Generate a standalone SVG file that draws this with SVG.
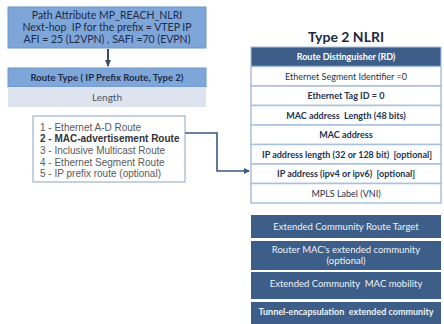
<svg xmlns="http://www.w3.org/2000/svg" width="444" height="324" viewBox="0 0 444 324">
<style>
.c{font-family:Lato,"Open Sans","DejaVu Sans",sans-serif;text-anchor:middle;white-space:pre}
.blue{fill:#7fa6d8;stroke:#6d95c9;stroke-width:1}
.t1{font-size:10.5px;fill:#1d2b48}
.row{fill:#ffffff;stroke:#a9c0de;stroke-width:1.5}
.rt{font-size:9px;fill:#24344f}
.b{font-weight:bold}
.dark{fill:#3c5e88}
.dt{font-size:9.5px;fill:#eef2f8}
.list{font-family:"Liberation Sans",Arial,sans-serif;font-size:10px;fill:#5a5a5a}
</style>
<defs>
<marker id="ah" markerWidth="6" markerHeight="6" refX="5" refY="3" orient="auto" markerUnits="userSpaceOnUse">
<path d="M0,0 L6,3 L0,6 z" fill="#3a5a80"/>
</marker>
<marker id="ad" markerWidth="7" markerHeight="6" refX="6" refY="3" orient="auto" markerUnits="userSpaceOnUse">
<path d="M0,0 L7,3 L0,6 z" fill="#3a4a6a"/>
</marker>
</defs>

<g id="path-attribute">
<rect class="blue" x="8" y="7" width="198" height="41"/>
<text class="c t1" x="107" y="19">Path Attribute MP_REACH_NLRI</text>
<text class="c t1" x="107" y="31">Next-hop  IP for the prefix = VTEP IP</text>
<text class="c t1" x="107" y="43">AFI = 25 (L2VPN) , SAFI =70 (EVPN)</text>
</g>

<g id="route-type">
<rect class="blue" x="8" y="68" width="198" height="19"/>
<text class="c t1 b" x="107" y="81" style="font-size:9.5px">Route Type ( IP Prefix Route, Type 2)</text>
</g>

<g id="length">
<rect x="8" y="87" width="198" height="20" fill="#dde3ef"/>
<text class="c t1" x="107" y="101" style="font-size:10px;fill:#4a5468">Length</text>
</g>

<g id="route-list">
<rect x="33" y="116" width="152" height="66" fill="#ffffff" stroke="#8ea4c2" stroke-width="1"/>
<text class="list" x="40" y="131">1 - Ethernet A-D Route</text>
<text class="list" x="40" y="142" style="font-weight:bold;fill:#333">2 - MAC-advertisement Route</text>
<text class="list" x="40" y="154">3 - Inclusive Multicast Route</text>
<text class="list" x="40" y="166">4 - Ethernet Segment Route</text>
<text class="list" x="40" y="177">5 - IP prefix route (optional)</text>
</g>

<g id="title">
<text class="c b" x="346" y="42" style="font-size:14px;fill:#1e2a40">Type 2 NLRI</text>
</g>

<g id="type2-nlri">
<rect x="251" y="47" width="190" height="19.5" fill="#3c5e88" stroke="#a9c0de" stroke-width="1"/>
<text class="c b" x="346" y="60" style="font-size:9px;fill:#ffffff">Route Distinguisher (RD)</text>
<rect class="row" x="251" y="66.5" width="190" height="19.5"/>
<text class="c rt" x="346" y="79.5">Ethernet Segment Identifier =0</text>
<rect class="row" x="251" y="86" width="190" height="19.5"/>
<text class="c rt b" x="346" y="99">Ethernet Tag ID = 0</text>
<rect class="row" x="251" y="105.5" width="190" height="19.5"/>
<text class="c rt b" x="346" y="118.5">MAC address  Length (48 bits)</text>
<rect class="row" x="251" y="125" width="190" height="19.5"/>
<text class="c rt b" x="346" y="138">MAC address</text>
<rect class="row" x="251" y="144.5" width="190" height="19.5"/>
<text class="c rt b" x="347" y="157.5">IP address length (32 or 128 bit)  [optional]</text>
<rect class="row" x="251" y="164" width="190" height="19.5"/>
<text class="c rt b" x="346" y="177">IP address (ipv4 or ipv6)  [optional]</text>
<rect class="row" x="251" y="183.5" width="190" height="19.5"/>
<text class="c rt" x="346" y="196.5">MPLS Label (VNI)</text>
</g>

<g id="ext-community-rt">
<rect class="dark" x="251" y="215" width="190" height="23"/>
<text class="c dt" x="346" y="229.5">Extended Community Route Target</text>
</g>
<g id="router-mac">
<rect class="dark" x="251" y="241" width="190" height="29"/>
<text class="c dt" x="346" y="253">Router MAC's extended community</text>
<text class="c dt" x="346" y="264">(optional)</text>
</g>
<g id="mac-mobility">
<rect class="dark" x="251" y="272" width="190" height="27"/>
<text class="c dt" x="346" y="286.5">Extended Community  MAC mobility</text>
</g>
<g id="tunnel-encap">
<rect class="dark" x="251" y="302" width="190" height="22"/>
<text class="c dt b" x="346" y="315" style="font-size:9px">Tunnel-encapsulation  extended community</text>
</g>

<g id="connectors">
<line x1="108" y1="49" x2="108" y2="66" stroke="#3a4a6a" stroke-width="2" marker-end="url(#ad)"/>
<polyline points="185,133 217,133 217,171 249,171" fill="none" stroke="#3a5a80" stroke-width="1.6" marker-end="url(#ah)"/>
</g>
</svg>
